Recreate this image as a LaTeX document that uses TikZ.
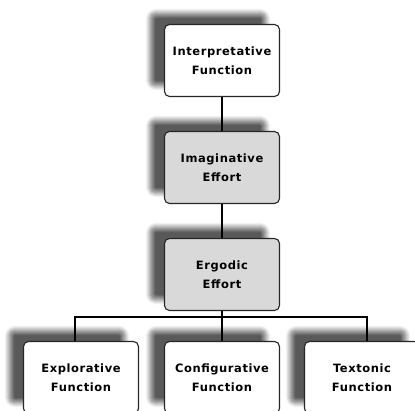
\documentclass[tikz,border=0pt]{standalone}
\usepackage{xcolor}
\usepackage{fontspec}
\setmainfont{DejaVu Sans}
\usepackage{tikz}
\usetikzlibrary{shapes, arrows, shadows.blur}

\definecolor{boxgrey}{RGB}{217,217,217}

\begin{document}
\begin{tikzpicture}[-,>=stealth',x=1pt,y=-1pt,node distance=107pt,
      main node/.style={rectangle,rounded corners=5pt,draw=black!85,line width=1.1pt,
        fill=white,minimum width=115pt,minimum height=72pt,align=center,
        font=\fontsize{11.5}{19}\selectfont\bfseries\addfontfeatures{LetterSpace=5},
        blur shadow={shadow xshift=-14pt,shadow yshift=11pt,shadow blur radius=5pt,
          shadow opacity=65,shadow blur steps=10}},
      grey node/.style={main node,fill=boxgrey},
      link/.style={line width=1.3pt,black}]

    \useasboundingbox (0,0) rectangle (415,411);
    \clip (0,0) rectangle (415,411);

        \node[main node] (interp) at (222,60.5) {Interpretative\\Function};
        \node[grey node] (imag) [below of=interp] {Imaginative\\Effort};
        \node[grey node] (ergodic) [below of=imag] {Ergodic\\Effort};
        \node[main node] (config) [below of=ergodic,node distance=103pt] {Configurative\\Function};
        \node[main node] (explor) [left of=config,node distance=141pt] {Explorative\\Function};
        \node[main node] (texton) [right of=config,node distance=140pt] {Textonic\\Function};

        \coordinate (bar) at (222,317);

        \draw[link] (interp) -- (imag);
        \draw[link] (imag) -- (ergodic);
        \draw[link] (ergodic) -- (config);
        \draw[link] ([xshift=-6pt]explor.north) |- (bar) -| ([xshift=5pt]texton.north);
\end{tikzpicture}
\end{document}
